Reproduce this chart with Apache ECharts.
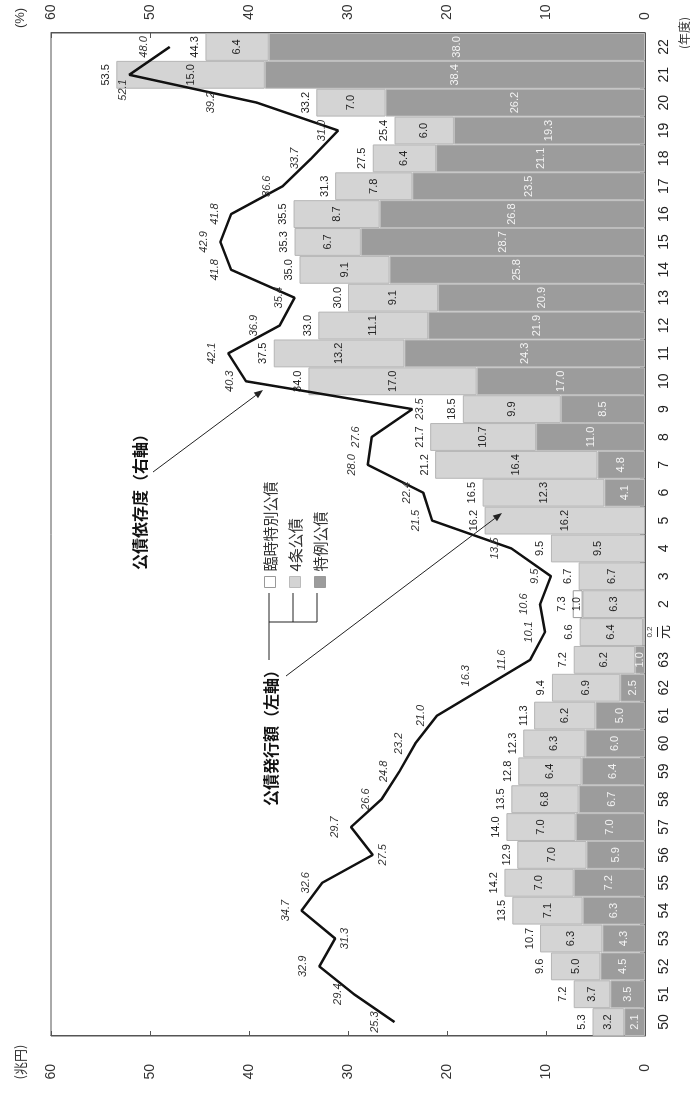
<!DOCTYPE html>
<html><head><meta charset="utf-8">
<script src="https://cdn.jsdelivr.net/npm/echarts@6/dist/echarts.min.js"></script>
<style>
html,body{margin:0;padding:0;background:#fff;overflow:hidden;width:690px;height:1096px;}
#chart{position:absolute;left:0;top:0;width:1096px;height:690px;transform-origin:0 0;transform:translate(0px,1096px) rotate(-90deg);}
</style></head><body><div id="chart"></div>
<script>
// ---- data ----
const years = ['50','51','52','53','54','55','56','57','58','59','60','61','62','63','元','2','3','4','5','6','7','8','9','10','11','12','13','14','15','16','17','18','19','20','21','22'];
const tokurei = [2.1,3.5,4.5,4.3,6.3,7.2,5.9,7.0,6.7,6.4,6.0,5.0,2.5,1.0,0.2,null,null,null,null,4.1,4.8,11.0,8.5,17.0,24.3,21.9,20.9,25.8,28.7,26.8,23.5,21.1,19.3,26.2,38.4,38.0];
const yonjo = [3.2,3.7,5.0,6.3,7.1,7.0,7.0,7.0,6.8,6.4,6.3,6.2,6.9,6.2,6.4,6.3,6.7,9.5,16.2,12.3,16.4,10.7,9.9,17.0,13.2,11.1,9.1,9.1,6.7,8.7,7.8,6.4,6.0,7.0,15.0,6.4];
const rinji = [null,null,null,null,null,null,null,null,null,null,null,null,null,null,null,1.0,null,null,null,null,null,null,null,null,null,null,null,null,null,null,null,null,null,null,null,null];
const totals = [5.3,7.2,9.6,10.7,13.5,14.2,12.9,14.0,13.5,12.8,12.3,11.3,9.4,7.2,6.6,7.3,6.7,9.5,16.2,16.5,21.2,21.7,18.5,34.0,37.5,33.0,30.0,35.0,35.3,35.5,31.3,27.5,25.4,33.2,53.5,44.3];
const dependency = [25.3,29.4,32.9,31.3,34.7,32.6,27.5,29.7,26.6,24.8,23.2,21.0,16.3,11.6,10.1,10.6,9.5,13.5,21.5,22.4,28.0,27.6,23.5,40.3,42.1,36.9,35.4,41.8,42.9,41.8,36.6,33.7,31.0,39.2,52.1,48.0];
const axisMin = 0, axisMax = 60, axisStep = 10;

// ---- style (label placement tweaks for the line, by index) ----
const lineLabelTweaks = {
  0:{distance:14}, 3:{position:'bottom',distance:4}, 6:{position:'bottom',distance:4},
  12:{distance:12,offset:[12,0]}, 13:{distance:22}, 22:{position:'bottom',distance:2},
  25:{distance:20}, 33:{distance:40}, 34:{position:'left',distance:4,offset:[0,-6]}, 35:{distance:20}
};
const FONT = "'Liberation Sans', Arial, 'Noto Sans CJK JP', sans-serif";
const JFONT = "'Noto Sans CJK JP', 'Liberation Sans', sans-serif";
const fmt = p => (p.value == null || p.value === 0) ? '' : Number(p.value).toFixed(1);

const chart = echarts.init(document.getElementById('chart'), null, {renderer:'canvas'});

function arrow(x1,y1,x2,y2){
  const a = Math.atan2(y2-y1, x2-x1), L = 9, W = 3.5;
  const bx = x2 - L*Math.cos(a), by = y2 - L*Math.sin(a);
  const px = -Math.sin(a)*W, py = Math.cos(a)*W;
  return [
    {type:'line', z:100, shape:{x1:x1,y1:y1,x2:bx,y2:by}, style:{stroke:'#222', lineWidth:1}},
    {type:'polygon', z:100, shape:{points:[[x2,y2],[bx+px,by+py],[bx-px,by-py]]}, style:{fill:'#222'}}
  ];
}
const ln = (x1,y1,x2,y2) => ({type:'line', z:100, shape:{x1,y1,x2,y2}, style:{stroke:'#222', lineWidth:1}});

const barCommon = {type:'bar', stack:'k', barCategoryGap:'0%', barGap:'0%', xAxisIndex:0, yAxisIndex:0};

const tokureiData = tokurei.map((v,i) => (v != null && v < 0.5) ?
  {value:v, label:{position:'bottom', distance:1, color:'#333', fontSize:8}} : v);

const lineData = dependency.map((v,i) => {
  const t = lineLabelTweaks[i];
  return t ? {value:v, label:t} : v;
});

const valueAxis = (pos, margin) => ({
  type:'value', position:pos, min:axisMin, max:axisMax, interval:axisStep,
  axisLine:{show:true, lineStyle:{color:'#555', width:1}},
  axisTick:{show:true, inside:true, length:5, lineStyle:{color:'#555'}},
  axisLabel:{fontSize:14, color:'#333', margin:margin, fontFamily:FONT},
  splitLine:{show:false}
});

chart.setOption({
  animation:false,
  backgroundColor:'#fff',
  textStyle:{fontFamily:FONT},
  grid:{left:60, right:33, top:51, bottom:45, show:true, borderColor:'#555', borderWidth:1, backgroundColor:'transparent'},
  legend:{
    orient:'vertical', left:503, top:257, itemWidth:11, itemHeight:11, itemGap:9, icon:'rect',
    textStyle:{fontSize:15, color:'#333', lineHeight:16, fontFamily:JFONT},
    data:[{name:'臨時特別公債', itemStyle:{color:'#fff', borderColor:'#999', borderWidth:1}},
          {name:'4条公債', itemStyle:{borderColor:'#bbb', borderWidth:1}},
          {name:'特例公債', itemStyle:{borderColor:'#999', borderWidth:1}}]
  },
  xAxis:{
    type:'category', data:years, boundaryGap:true,
    axisLine:{lineStyle:{color:'#555', width:1}},
    axisTick:{show:true, inside:true, length:5, alignWithLabel:false, interval:0, lineStyle:{color:'#555'}},
    axisLabel:{interval:0, fontSize:14, color:'#222', margin:12, fontFamily:FONT}
  },
  yAxis:[valueAxis('left', 28), valueAxis('right', 13)],
  series:[
    Object.assign({}, barCommon, {
      name:'特例公債', data:tokureiData,
      itemStyle:{color:'#9c9c9c', borderColor:'#bdbdbd', borderWidth:1},
      label:{show:true, position:'inside', color:'#f4f4f4', fontSize:11, formatter:fmt}
    }),
    Object.assign({}, barCommon, {
      name:'4条公債', data:yonjo,
      itemStyle:{color:'#d4d4d4', borderColor:'#b5b5b5', borderWidth:1},
      label:{show:true, position:'inside', color:'#222', fontSize:11, formatter:fmt}
    }),
    Object.assign({}, barCommon, {
      name:'臨時特別公債', data:rinji,
      itemStyle:{color:'#ffffff', borderColor:'#999', borderWidth:1},
      label:{show:true, position:'inside', color:'#222', fontSize:10, formatter:fmt}
    }),
    Object.assign({}, barCommon, {
      name:'合計', data:totals.map(() => 0), silent:true,
      itemStyle:{color:'rgba(0,0,0,0)', borderWidth:0},
      label:{show:true, position:'top', distance:5, color:'#222', fontSize:11,
             formatter:p => totals[p.dataIndex].toFixed(1)}
    }),
    {
      name:'公債依存度', type:'line', yAxisIndex:1, data:lineData, z:10,
      symbol:'circle', symbolSize:1, itemStyle:{color:'rgba(0,0,0,0)'},
      lineStyle:{color:'#111', width:2.5}, emphasis:{disabled:true},
      label:{show:true, position:'top', distance:10, color:'#333', fontSize:11, fontStyle:'italic',
             formatter:p => Number(p.value).toFixed(1)}
    }
  ],
  graphic:[
    {type:'text', z:100, x:34, y:20, style:{text:'(兆円)', fontSize:13, fill:'#333', align:'center', verticalAlign:'middle', fontFamily:JFONT}},
    {type:'text', z:100, x:1078, y:20, style:{text:'(%)', fontSize:13, fill:'#333', align:'center', verticalAlign:'middle', fontFamily:FONT}},
    {type:'text', z:100, x:1063, y:684, style:{text:'(年度)', fontSize:12, fill:'#333', align:'center', verticalAlign:'middle', fontFamily:JFONT}},
    {type:'text', z:100, x:526, y:140, style:{text:'公債依存度（右軸）', fontSize:16, fontWeight:'bold', fill:'#111', align:'left', verticalAlign:'middle', fontFamily:JFONT}},
    {type:'text', z:100, x:434, y:271, style:{text:'公債発行額（左軸）', fontSize:16, fontWeight:'bold', fill:'#111', align:'right', verticalAlign:'middle', fontFamily:JFONT}},
    ln(436,269,503,269), ln(474,269,474,317), ln(474,293,503,293), ln(474,317,503,317)
  ].concat(arrow(624,153,706,263)).concat(arrow(420,286,583,502))
});
</script></body></html>
